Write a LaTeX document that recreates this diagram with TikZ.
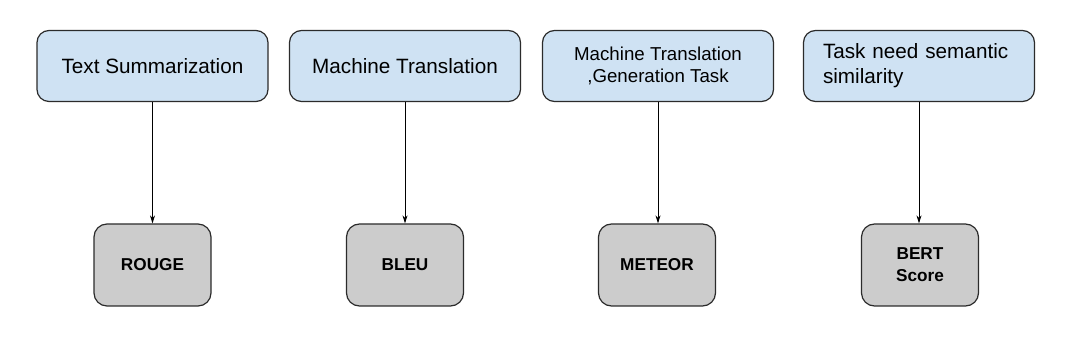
\documentclass[tikz,border=0pt]{standalone}
\usepackage{fontspec}
\setmainfont{Liberation Sans}
\usetikzlibrary{arrows.meta}
\definecolor{topfill}{HTML}{CFE2F3}
\definecolor{botfill}{HTML}{CCCCCC}
\definecolor{edge}{HTML}{2B2B2B}
\begin{document}
\begin{tikzpicture}[x=1pt,y=-1pt,
  taskbox/.style={draw=edge, line width=1.2pt, fill=topfill, rounded corners=12pt,
    minimum width=231pt, minimum height=71pt, inner sep=0pt, font=\fontsize{20.7}{25}\selectfont},
  metricbox/.style={draw=edge, line width=1.2pt, fill=botfill, rounded corners=13pt,
    minimum width=117pt, minimum height=82pt, inner sep=0pt, font=\bfseries\fontsize{17.2}{22}\selectfont},
  link/.style={draw=black, line width=0.9pt, -{Stealth[length=8pt,width=5pt]}}]
\useasboundingbox (0,0) rectangle (1072,344);
\node[taskbox] (t1) at (152.5,66) {Text Summarization};
\node[taskbox] (t2) at (405,66) {Machine Translation};
\node[taskbox, font=\fontsize{18.7}{21.5}\selectfont, align=center] (t3) at (658,66) {Machine Translation\\,Generation Task};
\node[taskbox, align=left, text width=192pt] (t4) at (919,66) {Task need semantic\\similarity};
\node[metricbox] (m1) at (152.5,265) {ROUGE};
\node[metricbox] (m2) at (405,265) {BLEU};
\node[metricbox] (m3) at (657,265) {METEOR};
\node[metricbox, align=center] (m4) at (920,265) {BERT\\Score};
\draw[link] (t1.south) -- (m1.north);
\draw[link] (t2.south) -- (t2.south |- m2.north);
\draw[link] (t3.south) -- (t3.south |- m3.north);
\draw[link] (t4.south) -- (t4.south |- m4.north);
\end{tikzpicture}
\end{document}
